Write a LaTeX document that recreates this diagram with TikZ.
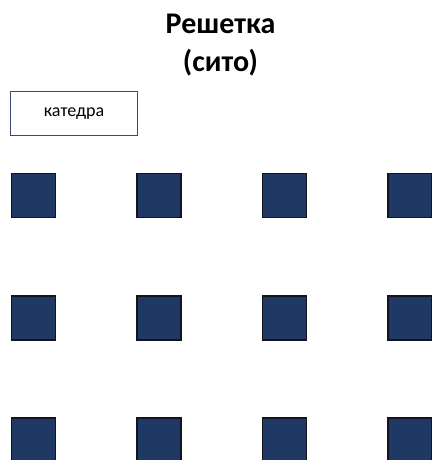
\documentclass[tikz,border=0pt]{standalone}
\usepackage{fontspec}
\setmainfont{Carlito}
\usepackage{tikz}
\usetikzlibrary{positioning}
\definecolor{deskblue}{RGB}{31,56,100}
\definecolor{deskframe}{RGB}{20,20,30}
\definecolor{boxframe}{RGB}{55,75,110}
\tikzset{
  desk/.style={rectangle, draw=deskframe, fill=deskblue,
    minimum size=44pt, inner sep=0pt, line width=1.4pt},
  katbox/.style={rectangle, draw=boxframe, fill=white,
    minimum width=127pt, minimum height=44pt, inner sep=0pt,
    font=\fontsize{18}{20}\selectfont, line width=1.6pt},
  ttl/.style={font=\fontsize{30}{38}\selectfont\bfseries, align=center}
}

\begin{document}
\begin{tikzpicture}[x=1pt, y=-1pt]
\useasboundingbox (0,0) rectangle (431,460);
% title
\node[ttl] (title) at (220.5,45) {Решетка\\(сито)};
% teacher desk
\node[katbox] (katedra) at (74,113.5) {катедра};
% desks
\foreach \r/\yy in {1/195.5, 2/318, 3/440}
  \foreach \c/\xx in {1/33.5, 2/159, 3/284.5, 4/410}
    \node[desk] (d\r\c) at (\xx,\yy) {};
\end{tikzpicture}
\end{document}
